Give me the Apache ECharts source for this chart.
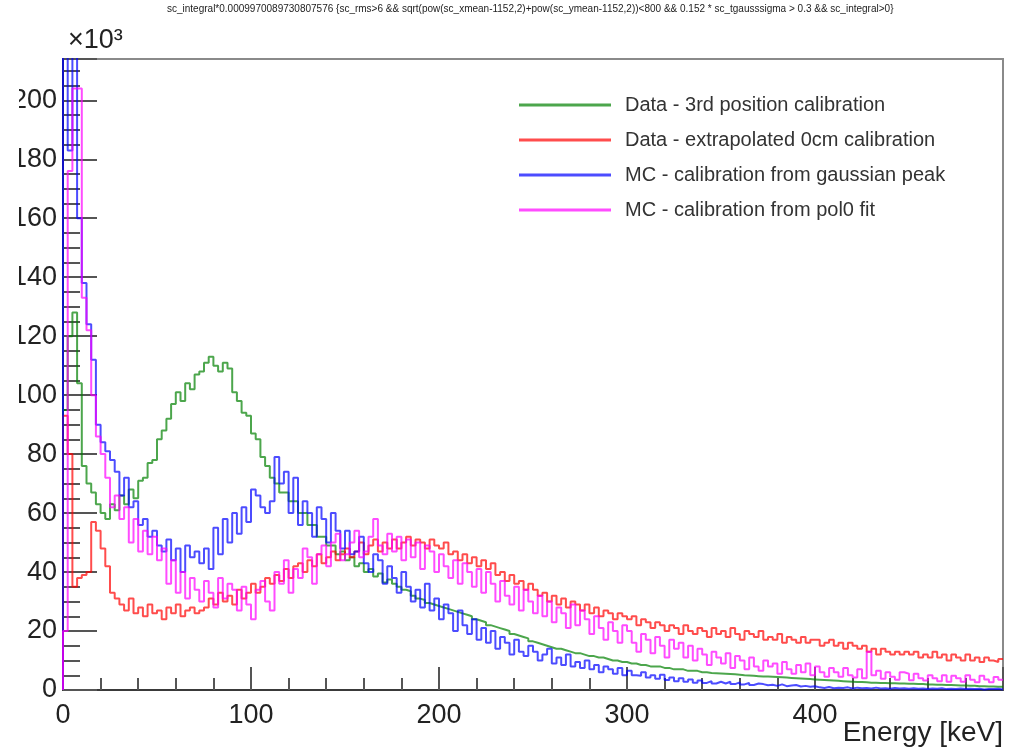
<!DOCTYPE html>
<html><head><meta charset="utf-8">
<script src="https://cdn.jsdelivr.net/npm/echarts@6/dist/echarts.min.js"></script>
<style>html,body{margin:0;padding:0;background:#fff}#c{width:1012px;height:747px}</style>
</head><body><div id="c"></div>
<script>
// ---- data (counts in units of 10^3) ----
const titleText = "sc_integral*0.0009970089730807576 {sc_rms>6 && sqrt(pow(sc_xmean-1152,2)+pow(sc_ymean-1152,2))<800 && 0.152 * sc_tgausssigma > 0.3 && sc_integral>0}";
const xAxisTitle = "Energy [keV]";
const yScaleLabel = "×10³";
const seriesNames = [
  "Data - 3rd position calibration",
  "Data - extrapolated 0cm calibration",
  "MC - calibration from gaussian peak",
  "MC - calibration from pol0 fit"
];
const binWidth = 2.5;          // keV per bin
const xRange = [0, 500];
const xTickStep = 100;
const yRange = [0, 214];
const yTickStep = 20;

const greenVals = [95,120,128,104,76,70,67,63,60,58,63,61,
66,63,68,65,71,72,77,78,
85,88,92,97,101,98,104,102,107,108,
111,113,110,108,111,109,101,98,94,93,
87,85,79,76,72,70,67,67,64,64,
60,60,56,56,52,52,49,49,46,47,
44,45,42,43,40,41,38.5,39.5,36.5,37.5,
36,35,34,33.5,32,31,30.5,29.5,29,28.5,
28,27.5,27,26.5,26,25.5,25,24,23.5,23,
22,21.5,21,20.5,20,19,18.5,18,17.5,16.5,
16,15.5,15,14.5,14,14,13.5,13,12.5,12.5,
12,11.5,11.5,11,11,10.5,10,10,9.5,9.5,
9,9,8.5,8.5,8,8,8,7.5,7.5,7,
7,7,6.5,6.5,6.5,6,6,5.8,5.7,5.6,
5.5,5.4,5.3,5.2,5,4.9,4.8,4.7,4.6,4.6,
4.5,4.4,4.3,4.2,4.1,4,3.9,3.8,3.7,3.6,
3.5,3.4,3.3,3.2,3.1,3,2.9,2.8,2.7,2.7,
2.6,2.5,2.5,2.4,2.4,2.3,2.3,2.2,2.2,2.1,
2.1,2,2,1.9,1.9,1.8,1.8,1.7,1.7,1.6,
1.5,1.5,1.4,1.4,1.3,1.3,1.2,1.2,1.1,1.1];

const redVals = [93,80,35,38,39,40,57,54,48,42,33,31,
29,27,31,26,28,25,29,26,27,24,28,26,29,25,27,28,26,27,
28,31,29,33,30,32,29,34,31,33,
36,33,35,38,36,39,37,41,38,42,
43,40,44,42,46,43,45,47,44,46,
48,45,47,50,46,49,51,47,50,48,
51,48,50,52,49,51,50,48,51,49,
48,50,46,47,44,46,43,45,42,44,
41,43,39,40,37,39,36,37,34,36,
34,32,33,30,32,29,31,28,30,29,
27,29,26,28,25,27,26,24,26,25,
24,25,22,24,23,21,23,22,20,22,
21,19,22,20,19,21,20,18,21,19,
20,18,21,19,17,20,19,18,20,17,
18,17,19,16,18,17,16,18,16,17,
17,15,16,17,15,16,14,16,15,14,
15,13,14,12,14,13,12,13,12,13,
12,13,11,12,11,13,11,12,10,12,
11,10,12,10,11,9.5,11,10,9.5,10.5];

const blueVals = [230,183,230,160,138,124,112,90,84,81,78,74,
66,72,62,64,56,58,52,54,
49,47,51,44,48,40,49,45,47,43,
48,41,55,46,58,50,60,53,62,57,
68,66,62,60,64,79,70,74,60,72,
56,64,60,52,62,58,50,60,54,48,
54,46,47,52,43,40,46,44,36,42,
38,33,40,35,30,34,28,36,27,31,
24,29,26,20,27,22,19,24,17,21,
16,20,14,18,16,12,17,13,11.5,15,
13,10,12,14,9,11,8.5,12,8,9.5,
7.5,10,7,8.5,6,8,7,5.5,7.5,5,
6.5,5,4.8,6,4.2,5,3.8,5.2,3.4,4.2,
3,4,2.8,3.6,2.5,3.2,2.4,3,2.2,2.8,
2.2,2.8,2,2.6,1.9,2.4,1.7,2.2,2,1.6,
1.8,1.4,1.9,1.3,1.5,1.7,1.2,1.4,1.1,1.3,
0.9,0.7,1,0.6,0.8,0.7,0.9,0.5,0.8,0.6,
0.7,0.5,0.8,0.5,0.6,0.4,0.7,0.5,0.6,0.4,
0.6,0.4,0.5,0.3,0.5,0.4,0.6,0.3,0.4,0.3,
0.5,0.3,0.4,0.3,0.4,0.2,0.3,0.3,0.4,0.2];

const magentaVals = [20,176,204,204,133,122,100,86,80,72,62,66,
58,62,50,58,47,54,46,52,
44,48,36,44,33,40,31,38,34,30,
37,33,28,38,31,36,34,27,35,29,
24,34,37,30,27,40,36,44,33,41,
38,48,45,36,46,49,42,50,53,44,
46,50,54,45,47,52,58,49,46,53,
47,52,44,51,45,50,41,49,47,40,
46,42,38,44,36,43,40,35,41,33,
40,36,30,37,32,29,35,27,34,30,
26,32,25,30,23,28,26,21,29,22,
27,24,19,25,21,17,23,20,16,22,
20,16,13,19,17,12.5,18,15,11,17,
14,16,11,15,10,14,12,8.5,13,11,
9,12.5,7.5,11.5,10,7,11,8,6.5,10,
8,9,5.5,9.5,7,5.5,8.5,6,9,5,
8,6,4.5,7.5,6,4.5,7.5,5,4.2,7,
4,13,5,6.5,3.8,6,4.5,3.5,6,5.5,
3.3,5.5,4,3.2,5,4,3,5,2.8,4.8,
4,2.8,5,3.5,2.6,4.8,3.6,2.6,4.4,3.5];

const seriesColors = ['rgba(0,128,0,0.7)','rgba(255,0,0,0.7)','rgba(0,0,255,0.7)','rgba(255,0,255,0.7)'];

// ---- build ----
function toSteps(vals){
  const pts = [[xRange[0], 0]];
  vals.forEach((v,i)=>pts.push([xRange[0] + i*binWidth, v]));
  pts.push([xRange[0] + vals.length*binWidth, vals[vals.length-1]]);
  return pts;
}
const allVals = [greenVals, redVals, blueVals, magentaVals];
const FONT = '"Liberation Sans", Arial, sans-serif';

const chart = echarts.init(document.getElementById('c'), null, {renderer:'canvas'});
chart.setOption({
  animation: false,
  backgroundColor: '#fff',
  grid: {left: 63, right: 9, top: 59, bottom: 57, show: true, borderColor: '#8a8a8a', borderWidth: 2, backgroundColor: 'transparent'},
  legend: {
    orient: 'vertical', left: 514, top: 89, itemGap: 13,
    itemWidth: 92, itemHeight: 3, icon: 'rect',
    textStyle: {fontSize: 20, color: '#333', fontFamily: FONT, padding: [0,0,0,9], lineHeight: 22},
    data: seriesNames
  },
  xAxis: {
    type: 'value', min: xRange[0], max: xRange[1], interval: xTickStep,
    axisLine: {onZero: false, lineStyle: {color: '#3a3a3a', width: 2}},
    axisTick: {inside: true, length: 23, lineStyle: {color: '#555', width: 2}},
    minorTick: {show: true, splitNumber: 5, length: 12, lineStyle: {color: '#555', width: 2}},
    splitLine: {show: false},
    axisLabel: {margin: 12, fontSize: 27, color: '#222', fontFamily: FONT, showMaxLabel: false}
  },
  yAxis: {
    type: 'value', min: yRange[0], max: yRange[1], interval: yTickStep,
    axisLine: {lineStyle: {color: '#3a3a3a', width: 2}},
    axisTick: {inside: true, length: 34, lineStyle: {color: '#555', width: 2}},
    minorTick: {show: true, splitNumber: 4, length: 17, lineStyle: {color: '#555', width: 2}},
    splitLine: {show: false},
    axisLabel: {margin: 6, fontSize: 27, color: '#222', fontFamily: FONT, showMaxLabel: false}
  },
  graphic: [
    {type: 'text', left: 167, top: 4, style: {text: titleText, font: '10px ' + FONT, fill: '#222'}},
    {type: 'text', left: 68, top: 27, style: {text: yScaleLabel, font: '27px ' + FONT, fill: '#222'}},
    {type: 'text', right: 9, top: 719, style: {text: xAxisTitle, font: '28px ' + FONT, fill: '#222'}},
    {type: 'rect', left: 0, top: 80, z: 100, shape: {width: 19, height: 340}, style: {fill: '#fff'}}
  ],
  series: allVals.map((vals, k) => ({
    name: seriesNames[k], type: 'line', step: 'end', symbol: 'none',
    color: seriesColors[k],
    lineStyle: {width: 2, color: seriesColors[k]},
    data: toSteps(vals), clip: true
  }))
});
</script></body></html>
